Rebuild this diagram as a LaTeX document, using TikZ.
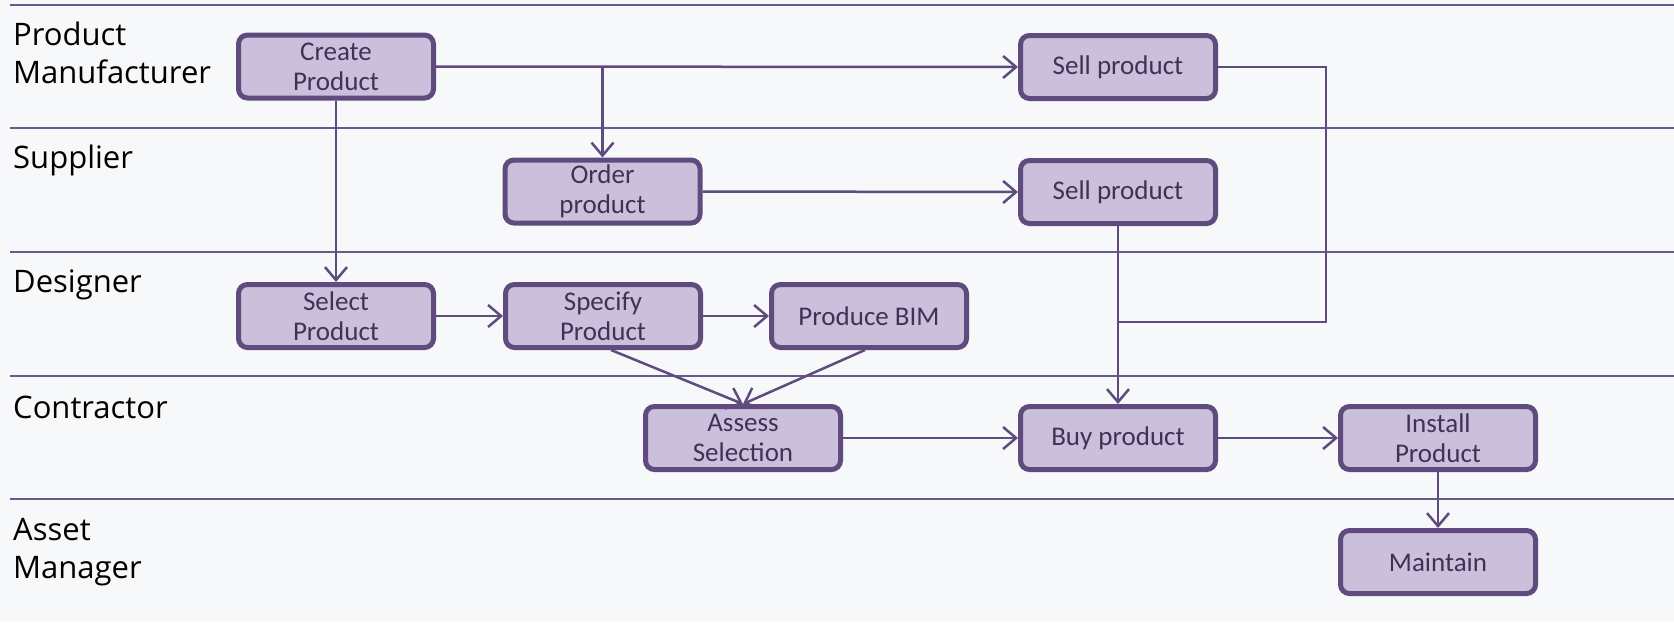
\documentclass[tikz,border=0pt]{standalone}
\usepackage{fontspec}
\usetikzlibrary{arrows.meta,calc}
\newfontfamily\boxfont{Carlito}
\newfontfamily\lanefont{Open Sans}
\definecolor{bgc}{HTML}{F7F8FA}
\definecolor{edgec}{HTML}{5F4B7E}
\definecolor{fillc}{HTML}{CBC0DC}
\definecolor{txtc}{HTML}{3E3256}
\definecolor{lanec}{HTML}{6A5A8C}
\tikzset{
  act/.style={draw=edgec, fill=fillc, line width=5pt, rounded corners=9pt,
    minimum width=195pt, minimum height=63pt, align=center, text=txtc,
    font=\boxfont\fontsize{27}{30}\selectfont, inner sep=0pt},
  flow/.style={draw=edgec, line width=2.5pt},
  arr/.style={flow, -{Straight Barb[length=13pt,width=22pt,line width=2.5pt]}},
  lane/.style={draw=lanec, line width=2pt},
  lanelabel/.style={anchor=base west, inner sep=0pt, align=left,
    font=\lanefont\fontsize{31}{38}\selectfont, text=black}
}
\begin{document}
\begin{tikzpicture}[x=1pt,y=-1pt]
\fill[bgc] (0,0) rectangle (1674,622);
\useasboundingbox (0,0) rectangle (1674,622);
% lane lines
\foreach \yy in {5,128,252,376,499} \draw[lane] (10,\yy) -- (1674,\yy);
% lane labels
\node[lanelabel] (lpm) at (13,83) {Product\\Manufacturer};
\node[lanelabel] (lsu) at (13,168) {Supplier};
\node[lanelabel] (lde) at (13,292) {Designer};
\node[lanelabel] (lco) at (13,418) {Contractor};
\node[lanelabel] (lam) at (13,578) {Asset\\Manager};
% activities
\node[act] (create) at (336,66.5) {Create\\Product};
\node[act] (sellpm) at (1118,67) {Sell product};
\node[act] (order) at (602.5,191.5) {Order\\product};
\node[act] (sells) at (1118,192) {Sell product};
\node[act] (select) at (336,316) {Select\\Product};
\node[act] (specify) at (603,316) {Specify\\Product};
\node[act] (bim) at (869,316) {Produce BIM};
\node[act] (assess) at (743,438) {Assess\\Selection};
\node[act] (buy) at (1118,438) {Buy product};
\node[act] (install) at (1438,438) {Install\\Product};
\node[act] (maintain) at (1438,562) {Maintain};
% connectors
\coordinate (turn) at (1326,0);
\coordinate (join) at (1118,322);
\draw[arr] (create.east) -- (sellpm.west);
\draw[arr] (order.north |- create.east) -- (order.north);
\draw[arr] (create.south) -- (select.north);
\draw[arr] (order.east) -- (sells.west);
\draw[flow] (sellpm.east) -- (sellpm.east -| turn) -- (turn |- join) -- (join);
\draw[arr] (sells.south) -- (buy.north);
\draw[arr] (select.east) -- (specify.west);
\draw[arr] (specify.east) -- (bim.west);
\draw[arr] ($(specify.south)+(8,0)$) -- (assess.north);
\draw[arr] ($(bim.south)+(-4,0)$) -- (assess.north);
\draw[arr] (assess.east) -- (buy.west);
\draw[arr] (buy.east) -- (install.west);
\draw[arr] (install.south) -- (maintain.north);
\end{tikzpicture}
\end{document}
